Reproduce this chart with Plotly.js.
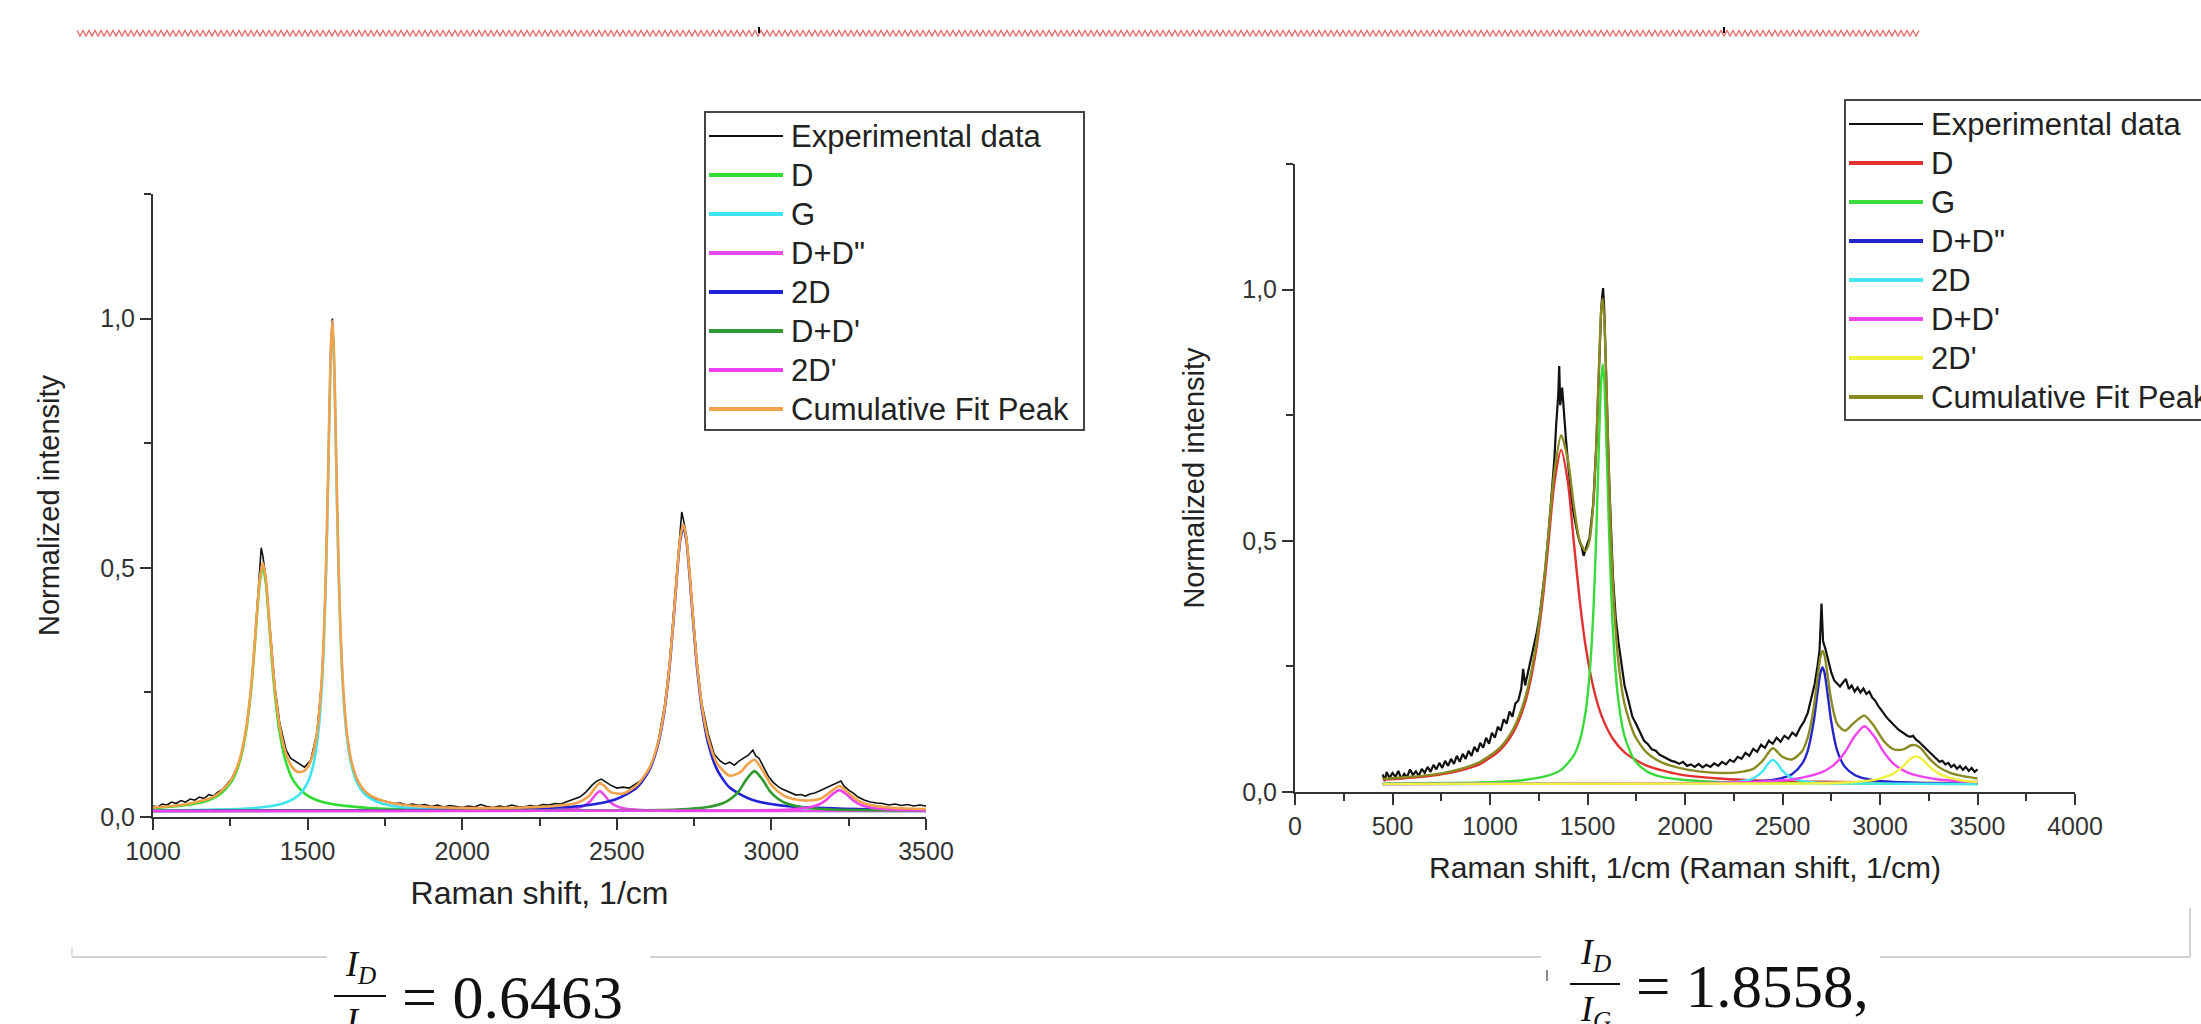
<!DOCTYPE html>
<html>
<head>
<meta charset="utf-8">
<script src="https://cdn.plot.ly/plotly-3.0.1.min.js"></script>
<style>html,body{margin:0;padding:0;background:#fff;}#chart{width:2201px;height:1024px;}</style>
</head>
<body>
<div id="chart"></div>
<script>
// ---------- LEFT PANEL DATA ----------
const leftExpX = [1000,1015,1030,1045,1060,1075,1090,1105,1120,1135,
1150,1165,1180,1195,1210,1225,1240,1255,1270,1285,
1300,1315,1325,1335,1345,1350,1355,1365,1375,1385,
1395,1410,1430,1445,1460,1470,1480,1490,1510,1530,
1545,1553,1560,1565,1570,1575,1580,1585,1590,1595,
1600,1607,1615,1625,1640,1660,1680,1700,1720,1740,
1760,1780,1800,1820,1840,1860,1880,1900,1920,1940,
1960,1980,2000,2020,2040,2060,2080,2100,2120,2140,
2160,2180,2200,2220,2240,2260,2280,2300,2320,2340,
2360,2380,2400,2420,2435,2450,2465,2480,2500,2520,
2540,2560,2580,2600,2620,2635,2655,2670,2685,2695,
2705,2710,2715,2725,2735,2745,2760,2775,2795,2815,
2835,2850,2865,2880,2895,2910,2925,2940,2950,2960,
2975,2990,3005,3020,3035,3050,3065,3080,3095,3110,
3125,3140,3155,3170,3185,3200,3215,3225,3235,3250,
3265,3280,3300,3320,3340,3360,3380,3400,3420,3440,
3460,3480,3500];
const leftExpY = [0.022,0.020,0.026,0.024,0.030,0.027,0.033,0.030,0.036,0.034,
0.040,0.037,0.045,0.042,0.050,0.056,0.066,0.078,0.097,0.122,
0.170,0.245,0.318,0.405,0.490,0.540,0.525,0.480,0.405,0.325,
0.258,0.188,0.135,0.118,0.112,0.108,0.104,0.100,0.114,0.168,
0.270,0.372,0.512,0.648,0.800,0.945,1.000,0.940,0.795,0.640,
0.500,0.360,0.255,0.175,0.112,0.072,0.052,0.042,0.036,0.033,
0.030,0.027,0.028,0.024,0.026,0.023,0.025,0.021,0.024,0.020,
0.023,0.021,0.019,0.022,0.020,0.025,0.021,0.019,0.022,0.020,
0.024,0.021,0.020,0.023,0.021,0.025,0.024,0.027,0.026,0.031,
0.035,0.040,0.050,0.064,0.072,0.076,0.070,0.064,0.058,0.060,
0.058,0.066,0.074,0.090,0.118,0.155,0.226,0.306,0.418,0.500,
0.570,0.612,0.598,0.565,0.495,0.418,0.308,0.228,0.168,0.126,
0.112,0.106,0.110,0.104,0.112,0.118,0.124,0.134,0.122,0.118,
0.100,0.082,0.070,0.062,0.056,0.052,0.048,0.044,0.045,0.042,
0.046,0.048,0.052,0.056,0.060,0.064,0.068,0.072,0.062,0.054,
0.048,0.040,0.034,0.030,0.028,0.027,0.024,0.026,0.023,0.025,
0.022,0.024,0.022];

const leftDX = [1000,1155,1215,1255,1280,1300,1315,1325,1335,1345,1355,1365,1375,1385,1395,1410,1430,1455,1495,1555,1700,2200,3500];
const leftDY = [0.017,0.029,0.045,0.072,0.110,0.168,0.241,0.311,0.394,0.469,0.502,0.469,0.394,0.311,0.241,0.168,0.110,0.072,0.045,0.029,0.018,0.013,0.012];

const leftGX = [1000,1330,1420,1470,1500,1520,1535,1545,1553,1560,1565,1570,1575,1580,1585,1590,1595,1600,1607,1615,1625,1640,1660,1690,1740,1830,2200,3500];
const leftGY = [0.013,0.018,0.027,0.043,0.069,0.109,0.172,0.251,0.356,0.497,0.633,0.788,0.925,0.982,0.925,0.788,0.633,0.497,0.356,0.251,0.172,0.109,0.069,0.043,0.027,0.018,0.013,0.012];

const leftDDppX = [1000,2200,2295,2365,2395,2415,2430,2445,2460,2475,2495,2525,2595,2700,3500];
const leftDDppY = [0.012,0.012,0.0135,0.017,0.023,0.032,0.044,0.052,0.044,0.032,0.023,0.017,0.0135,0.012,0.012];

const left2DX = [1000,1915,2215,2385,2495,2565,2605,2635,2655,2670,2685,2695,2705,2715,2725,2735,2745,2760,2775,2795,2825,2865,2935,3045,3215,3500];
const left2DY = [0.012,0.014,0.017,0.022,0.035,0.059,0.094,0.149,0.217,0.297,0.407,0.488,0.555,0.582,0.555,0.488,0.407,0.297,0.217,0.149,0.094,0.059,0.035,0.022,0.017,0.014];

const leftDDpX = [1000,2445,2695,2795,2845,2870,2895,2920,2945,2970,2995,3020,3045,3095,3195,3500];
const leftDDpY = [0.012,0.013,0.015,0.020,0.028,0.037,0.052,0.076,0.092,0.076,0.052,0.037,0.028,0.020,0.015,0.013];

const left2DpX = [1000,2920,3060,3120,3150,3175,3198,3220,3242,3265,3290,3320,3380,3500];
const left2DpY = [0.012,0.013,0.015,0.019,0.024,0.033,0.046,0.054,0.046,0.033,0.024,0.019,0.015,0.013];

const leftCumX = [1000,1100,1200,1250,1280,1300,1315,1325,1335,1345,
1355,1365,1375,1385,1395,1410,1430,1450,1470,1490,
1510,1530,1545,1553,1560,1565,1570,1575,1580,1585,
1590,1595,1600,1607,1615,1625,1640,1660,1690,1740,
1800,1900,2000,2100,2200,2300,2370,2410,2430,2445,
2460,2480,2520,2565,2605,2635,2655,2670,2685,2695,
2705,2715,2725,2735,2745,2760,2775,2795,2825,2865,
2900,2920,2945,2970,3000,3040,3080,3120,3160,3190,
3220,3250,3280,3320,3380,3440,3500];
const leftCumY = [0.019,0.025,0.042,0.072,0.115,0.173,0.247,0.317,0.400,0.476,
0.510,0.477,0.403,0.321,0.252,0.181,0.127,0.100,0.090,0.093,
0.112,0.167,0.269,0.373,0.513,0.648,0.802,0.939,0.995,0.938,
0.800,0.645,0.508,0.367,0.261,0.181,0.117,0.076,0.049,0.033,
0.025,0.020,0.018,0.018,0.019,0.022,0.028,0.042,0.059,0.068,
0.062,0.050,0.047,0.064,0.098,0.153,0.221,0.301,0.411,0.492,
0.560,0.587,0.560,0.493,0.413,0.304,0.224,0.159,0.107,0.083,
0.090,0.104,0.115,0.095,0.064,0.043,0.035,0.033,0.037,0.050,
0.062,0.048,0.033,0.024,0.019,0.017,0.016];

// ---------- RIGHT PANEL DATA ----------
const rightExpX = [450,460,470,485,500,515,530,545,560,575,
590,605,620,635,650,665,680,695,710,725,
740,755,770,785,800,815,830,845,860,875,
890,905,920,935,950,965,980,995,1010,1025,
1040,1055,1070,1085,1100,1115,1130,1145,1160,1170,
1180,1195,1210,1225,1240,1255,1270,1285,1300,1315,
1330,1340,1350,1355,1360,1370,1380,1390,1400,1410,
1420,1430,1440,1450,1460,1470,1480,1490,1500,1510,
1520,1530,1545,1558,1570,1575,1580,1586,1598,1612,
1630,1645,1660,1675,1690,1710,1730,1750,1770,1790,
1810,1830,1850,1870,1890,1910,1930,1950,1970,1990,
2010,2030,2050,2070,2090,2110,2130,2150,2170,2190,
2210,2230,2250,2270,2290,2310,2330,2350,2370,2390,
2410,2430,2450,2470,2490,2510,2530,2550,2570,2590,
2610,2630,2650,2665,2680,2690,2700,2708,2720,2735,
2750,2765,2780,2795,2810,2825,2840,2855,2870,2885,
2900,2915,2930,2945,2960,2975,2990,3005,3020,3035,
3050,3065,3080,3095,3110,3125,3140,3155,3170,3185,
3200,3215,3230,3245,3260,3275,3290,3305,3320,3335,
3350,3365,3380,3395,3410,3425,3440,3455,3470,3485,
3500];
const rightExpY = [0.035,0.022,0.040,0.028,0.038,0.030,0.042,0.026,0.036,0.030,
0.045,0.034,0.041,0.032,0.046,0.038,0.050,0.040,0.054,0.045,
0.058,0.048,0.062,0.052,0.066,0.056,0.072,0.060,0.076,0.066,
0.082,0.072,0.090,0.080,0.098,0.088,0.108,0.096,0.118,0.108,
0.130,0.122,0.145,0.136,0.160,0.150,0.176,0.182,0.205,0.245,
0.212,0.238,0.262,0.290,0.318,0.352,0.398,0.448,0.515,0.588,
0.662,0.735,0.790,0.848,0.770,0.805,0.742,0.700,0.655,0.612,
0.578,0.552,0.530,0.512,0.498,0.488,0.470,0.485,0.495,0.505,
0.548,0.575,0.690,0.842,0.960,0.985,1.003,0.960,0.805,0.612,
0.432,0.345,0.295,0.250,0.212,0.182,0.150,0.135,0.118,0.102,
0.095,0.085,0.082,0.074,0.070,0.066,0.062,0.060,0.056,0.060,
0.052,0.055,0.050,0.056,0.049,0.054,0.050,0.057,0.052,0.060,
0.055,0.064,0.060,0.070,0.066,0.078,0.072,0.086,0.080,0.094,
0.088,0.102,0.096,0.108,0.100,0.112,0.106,0.118,0.112,0.128,
0.140,0.158,0.188,0.215,0.252,0.282,0.375,0.300,0.285,0.262,
0.238,0.222,0.215,0.210,0.218,0.225,0.205,0.212,0.200,0.208,
0.198,0.206,0.195,0.200,0.188,0.182,0.172,0.164,0.155,0.148,
0.142,0.135,0.130,0.124,0.120,0.116,0.112,0.110,0.112,0.104,
0.100,0.094,0.088,0.082,0.076,0.070,0.066,0.060,0.062,0.055,
0.058,0.050,0.054,0.046,0.052,0.044,0.050,0.042,0.048,0.040,
0.045];

const rightDX = [450,550,650,750,850,950,1050,1120,1180,1230,1270,1300,1330,1365,1400,1430,1460,1490,1530,1570,1630,1690,1800,1970,2170,2450,2800,3200,3500];
const rightDY = [0.025,0.027,0.030,0.035,0.043,0.056,0.083,0.119,0.178,0.267,0.382,0.497,0.615,0.681,0.615,0.497,0.382,0.291,0.208,0.154,0.106,0.079,0.053,0.035,0.027,0.022,0.020,0.018,0.018];

const rightGX = [450,750,950,1120,1230,1300,1365,1430,1460,1490,1510,1530,1545,1558,1570,1578,1586,1598,1612,1630,1655,1690,1740,1800,1880,1970,2170,2450,3500];
const rightGY = [0.017,0.018,0.019,0.022,0.027,0.033,0.044,0.073,0.102,0.159,0.231,0.358,0.513,0.684,0.819,0.851,0.819,0.684,0.501,0.326,0.193,0.111,0.064,0.042,0.030,0.025,0.020,0.018,0.016];

const rightDDppX = [450,1970,2170,2270,2350,2400,2450,2500,2550,2600,2630,2660,2680,2695,2705,2715,2730,2750,2780,2820,2870,2920,2970,3070,3210,3500];
const rightDDppY = [0.016,0.017,0.018,0.019,0.020,0.022,0.024,0.028,0.036,0.056,0.083,0.140,0.199,0.238,0.248,0.238,0.199,0.140,0.083,0.050,0.034,0.027,0.023,0.020,0.018,0.017];

const right2DX = [450,2070,2170,2270,2350,2400,2425,2450,2475,2500,2550,2600,2660,2750,2920,3500];
const right2DY = [0.016,0.017,0.018,0.020,0.027,0.042,0.056,0.064,0.056,0.042,0.027,0.022,0.019,0.018,0.017,0.016];

const rightDDpX = [450,1970,2170,2350,2450,2550,2630,2700,2750,2780,2820,2870,2920,2970,3020,3070,3120,3160,3210,3250,3300,3360,3420,3500];
const rightDDpY = [0.016,0.0175,0.018,0.020,0.022,0.025,0.031,0.039,0.050,0.060,0.079,0.111,0.131,0.111,0.079,0.056,0.043,0.036,0.031,0.028,0.025,0.023,0.021,0.020];

const right2DpX = [450,2600,2750,2870,2970,3020,3070,3120,3160,3185,3210,3250,3300,3360,3420,3500];
const right2DpY = [0.016,0.017,0.018,0.020,0.024,0.029,0.037,0.052,0.067,0.071,0.067,0.052,0.037,0.028,0.023,0.020];

const rightCumX = [450,550,650,750,850,950,1050,1120,1180,1230,
1270,1300,1330,1365,1400,1430,1460,1490,1510,1530,
1545,1558,1570,1578,1586,1598,1612,1630,1655,1690,
1740,1800,1880,1970,2070,2170,2270,2350,2400,2450,
2500,2550,2600,2630,2660,2680,2695,2705,2715,2730,
2750,2780,2820,2870,2920,2970,3020,3070,3120,3160,
3185,3210,3250,3300,3360,3420,3500];
const rightCumY = [0.026,0.029,0.032,0.037,0.046,0.060,0.088,0.126,0.187,0.278,
0.396,0.515,0.637,0.710,0.660,0.570,0.500,0.480,0.500,0.575,
0.690,0.837,0.958,0.982,0.943,0.797,0.604,0.418,0.272,0.175,
0.114,0.080,0.059,0.048,0.041,0.038,0.039,0.046,0.063,0.087,
0.070,0.065,0.081,0.109,0.167,0.228,0.270,0.281,0.273,0.236,
0.182,0.136,0.122,0.139,0.152,0.131,0.101,0.085,0.085,0.093,
0.093,0.087,0.068,0.050,0.038,0.032,0.027];

// ---------- labels ----------
const legendNamesLeft = ['Experimental data','D','G','D+D"','2D',"D+D'","2D'",'Cumulative Fit Peak'];
const legendNamesRight = ['Experimental data','D','G','D+D"','2D',"D+D'","2D'",'Cumulative Fit Peak'];
const xTitleLeft = 'Raman shift, 1/cm';
const xTitleRight = 'Raman shift, 1/cm (Raman shift, 1/cm)';
const yTitle = 'Normalized intensity';
const ratioLeft = '0.6463';
const ratioRight = '1.8558,';

// ---------- styling ----------
const W = 2201, H = 1024;
const px = v => v / W;
const py = v => 1 - v / H;
const SANS = 'Liberation Sans, Arial, sans-serif';
const SERIF = 'Liberation Serif, Times New Roman, serif';
const AX = '#333333';

const leftColors = ['#111111','#2fdc2f','#3fe3ef','#e94de9','#2121d6','#2f9a2f','#ef3fef','#f2a24a'];
const rightColors = ['#111111','#e23030','#3ada3a','#2424c8','#45e6f0','#f044f0','#f0f040','#8a8a22'];

const leftSets = [[leftExpX,leftExpY],[leftDX,leftDY],[leftGX,leftGY],[leftDDppX,leftDDppY],[left2DX,left2DY],[leftDDpX,leftDDpY],[left2DpX,left2DpY],[leftCumX,leftCumY]];
const rightSets = [[rightExpX,rightExpY],[rightDX,rightDY],[rightGX,rightGY],[rightDDppX,rightDDppY],[right2DX,right2DY],[rightDDpX,rightDDpY],[right2DpX,right2DpY],[rightCumX,rightCumY]];

const traces = [];
leftSets.forEach((s, i) => {
  traces.push({
    type: 'scatter', mode: 'lines', x: s[0], y: s[1], name: legendNamesLeft[i],
    xaxis: 'x', yaxis: 'y', showlegend: false,
    line: {color: leftColors[i], width: i === 0 ? 1.6 : 2.6, shape: i === 0 ? 'linear' : 'spline', smoothing: 0.7},
    hoverinfo: 'skip'
  });
});
rightSets.forEach((s, i) => {
  traces.push({
    type: 'scatter', mode: 'lines', x: s[0], y: s[1], name: legendNamesRight[i],
    xaxis: 'x2', yaxis: 'y2', showlegend: false,
    line: {color: rightColors[i], width: i === 0 ? 2.2 : 2.4, shape: i === 0 ? 'linear' : 'spline', smoothing: 0.7},
    hoverinfo: 'skip'
  });
});

function xAxis(domain, range, title, size, standoff) {
  return {
    domain: domain, range: range, showline: true, linecolor: AX, linewidth: 2,
    ticks: 'outside', ticklen: 11, tickwidth: 2, tickcolor: AX, dtick: 500, tick0: 0,
    minor: {dtick: 250, tick0: 0, ticks: 'outside', ticklen: 7, tickwidth: 2, tickcolor: AX},
    showgrid: false, zeroline: false, fixedrange: true,
    tickfont: {family: SANS, size: 25, color: AX},
    title: {text: title, font: {family: SANS, size: size, color: '#222'}, standoff: standoff}
  };
}
function yAxis(domain, standoff) {
  return {
    domain: domain, range: [0, 1.25], showline: true, linecolor: AX, linewidth: 2,
    ticks: 'outside', ticklen: 11, tickwidth: 2, tickcolor: AX, dtick: 0.5, tick0: 0, tickformat: '.1f',
    minor: {dtick: 0.25, tick0: 0, ticks: 'outside', ticklen: 7, tickwidth: 2, tickcolor: AX},
    showgrid: false, zeroline: false, fixedrange: true,
    tickfont: {family: SANS, size: 25, color: AX},
    title: {text: yTitle, font: {family: SANS, size: 29, color: '#222'}, standoff: standoff}
  };
}

const xa = xAxis([px(153), px(926)], [1000, 3500], xTitleLeft, 32, 18); xa.anchor = 'y';
const ya = yAxis([py(817), py(194)], 32); ya.anchor = 'x';
const xa2 = xAxis([px(1295), px(2075)], [0, 4000], xTitleRight, 30, 18); xa2.anchor = 'y2';
const ya2 = yAxis([py(792), py(164)], 29); ya2.anchor = 'x2';

const shapes = [];
const annotations = [];

// ---------- hand-drawn legends (Origin style) ----------
function drawLegend(names, colors, box, row0, rowH, lineX0, lineX1, textX) {
  shapes.push({type: 'rect', xref: 'paper', yref: 'paper', x0: px(box[0]), x1: px(box[1]), y0: py(box[2]), y1: py(box[3]),
    fillcolor: '#ffffff', line: {color: '#444444', width: 2}, layer: 'above'});
  names.forEach((nm, i) => {
    const yy = row0 + i * rowH;
    shapes.push({type: 'line', xref: 'paper', yref: 'paper', x0: px(lineX0), x1: px(lineX1), y0: py(yy), y1: py(yy),
      line: {color: colors[i], width: i === 0 ? 2 : 4}, layer: 'above'});
    annotations.push({xref: 'paper', yref: 'paper', x: px(textX), y: py(yy), xanchor: 'left', yanchor: 'middle',
      showarrow: false, text: nm, font: {family: SANS, size: 31, color: '#222'}});
  });
}
drawLegend(legendNamesLeft, leftColors, [705, 1084, 112, 430], 136, 39, 709, 783, 789);
drawLegend(legendNamesRight, rightColors, [1845, 2240, 100, 420], 124, 39, 1849, 1923, 1929);

// ---------- decorations: squiggle, separators, fraction bars ----------
let sq = '';
for (let xx = 77, k = 0; xx <= 1920; xx += 3, k++) {
  const yy = (k % 2 === 0) ? 30.5 : 36;
  sq += (k === 0 ? 'M' : 'L') + px(xx).toFixed(5) + ',' + py(yy).toFixed(5);
}
shapes.push({type: 'path', xref: 'paper', yref: 'paper', path: sq, line: {color: '#e07070', width: 1.4}});
shapes.push({type: 'line', xref: 'paper', yref: 'paper', x0: px(759), x1: px(759), y0: py(27), y1: py(33), line: {color: '#000', width: 2}});
shapes.push({type: 'line', xref: 'paper', yref: 'paper', x0: px(1724), x1: px(1724), y0: py(27), y1: py(33), line: {color: '#000', width: 2}});
const sepY = 957;
[[72, 327], [650, 1541], [1880, 2190]].forEach(seg => {
  shapes.push({type: 'line', xref: 'paper', yref: 'paper', x0: px(seg[0]), x1: px(seg[1]), y0: py(sepY), y1: py(sepY), line: {color: '#d2d2d2', width: 2}});
});
shapes.push({type: 'line', xref: 'paper', yref: 'paper', x0: px(2190), x1: px(2190), y0: py(908), y1: py(sepY), line: {color: '#d2d2d2', width: 2}});
shapes.push({type: 'line', xref: 'paper', yref: 'paper', x0: px(72), x1: px(72), y0: py(947), y1: py(sepY), line: {color: '#e2e2e2', width: 2}});
shapes.push({type: 'line', xref: 'paper', yref: 'paper', x0: px(1547), x1: px(1547), y0: py(970), y1: py(981), line: {color: '#888', width: 2}});
shapes.push({type: 'line', xref: 'paper', yref: 'paper', x0: px(334), x1: px(386), y0: py(996), y1: py(996), line: {color: '#111', width: 2}});
shapes.push({type: 'line', xref: 'paper', yref: 'paper', x0: px(1570), x1: px(1620), y0: py(984), y1: py(984), line: {color: '#111', width: 2}});

annotations.push(
  {xref: 'paper', yref: 'paper', x: px(360), y: py(991), xanchor: 'center', yanchor: 'bottom', showarrow: false,
   text: '<i>I<sub>D</sub></i>', font: {family: SERIF, size: 36, color: '#111'}},
  {xref: 'paper', yref: 'paper', x: px(360), y: py(999), xanchor: 'center', yanchor: 'top', showarrow: false,
   text: '<i>I<sub>G</sub></i>', font: {family: SERIF, size: 36, color: '#111'}},
  {xref: 'paper', yref: 'paper', x: px(400), y: py(997), xanchor: 'left', yanchor: 'middle', showarrow: false,
   text: '= ' + ratioLeft, font: {family: SERIF, size: 62, color: '#111'}},
  {xref: 'paper', yref: 'paper', x: px(1595), y: py(979), xanchor: 'center', yanchor: 'bottom', showarrow: false,
   text: '<i>I<sub>D</sub></i>', font: {family: SERIF, size: 36, color: '#111'}},
  {xref: 'paper', yref: 'paper', x: px(1595), y: py(987), xanchor: 'center', yanchor: 'top', showarrow: false,
   text: '<i>I<sub>G</sub></i>', font: {family: SERIF, size: 36, color: '#111'}},
  {xref: 'paper', yref: 'paper', x: px(1634), y: py(986), xanchor: 'left', yanchor: 'middle', showarrow: false,
   text: '= ' + ratioRight, font: {family: SERIF, size: 61, color: '#111'}}
);

const layout = {
  width: W, height: H,
  margin: {l: 0, r: 0, t: 0, b: 0, pad: 0, autoexpand: false},
  paper_bgcolor: '#ffffff', plot_bgcolor: 'rgba(0,0,0,0)',
  separators: ', ',
  showlegend: false,
  xaxis: xa, yaxis: ya, xaxis2: xa2, yaxis2: ya2,
  shapes: shapes, annotations: annotations
};

Plotly.newPlot('chart', traces, layout, {displayModeBar: false, staticPlot: true});
</script>
</body>
</html>
